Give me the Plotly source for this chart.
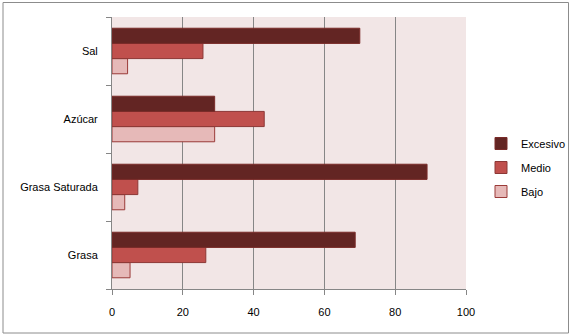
import plotly.graph_objects as go

categories = ["Grasa", "Grasa Saturada", "Azúcar", "Sal"]
series_names = ["Bajo", "Medio", "Excesivo"]
bajo = [5.1, 3.6, 29, 4.4]
medio = [26.5, 7.3, 43, 25.7]
excesivo = [68.7, 89, 29, 70]
x_ticks = [0, 20, 40, 60, 80, 100]

fills = {"Bajo": "#e6b9b8", "Medio": "#c0504d", "Excesivo": "#632523"}
borders = {"Bajo": "#9b3b39", "Medio": "#8c3836", "Excesivo": "#7a2b29"}
ranks = {"Excesivo": 1, "Medio": 2, "Bajo": 3}
values = {"Bajo": bajo, "Medio": medio, "Excesivo": excesivo}

FONT = "Liberation Sans"
fig = go.Figure()
for name in series_names:
    fig.add_trace(go.Bar(
        y=categories, x=values[name], name=name, orientation="h",
        marker=dict(color=fills[name], line=dict(color=borders[name], width=1)),
        legendgroup=name, legendrank=ranks[name],
    ))

W, H = 572, 336
l, r, t, b = 112, 106, 17, 47
pw, ph = W - l - r, H - t - b

def px(x):
    return (x - l) / pw

def py(y):
    return (H - b - y) / ph

fig.update_layout(
    width=W, height=H,
    margin=dict(l=l, r=r, t=t, b=b, autoexpand=False),
    paper_bgcolor="white",
    plot_bgcolor="#f2e6e6",
    barmode="group",
    bargap=0.33,
    bargroupgap=0,
    font=dict(family=FONT, size=11, color="#000000"),
    showlegend=True,
    legend=dict(
        traceorder="grouped",
        tracegroupgap=5,
        x=px(481), xanchor="left",
        y=py(129), yanchor="top",
        bgcolor="rgba(0,0,0,0)",
        font=dict(family=FONT, size=11),
    ),
    xaxis=dict(
        range=[0, 100], tickvals=x_ticks, showgrid=True, gridcolor="#868686",
        gridwidth=1, showline=True, linecolor="#868686", linewidth=1,
        ticks="outside", ticklen=5, tickcolor="#868686", zeroline=False,
        fixedrange=True, ticklabelstandoff=8,
    ),
    yaxis=dict(
        showline=True, linecolor="#868686", linewidth=1,
        ticks="outside", ticklen=5, tickcolor="#868686", tickson="boundaries",
        showgrid=False, fixedrange=True, ticklabelstandoff=11,
    ),
    shapes=[dict(
        type="rect", xref="paper", yref="paper",
        x0=px(3), x1=px(568.5), y0=py(333), y1=py(2.5),
        line=dict(color="#8c8c8c", width=1), fillcolor="rgba(0,0,0,0)",
        layer="below",
    )],
)

fig.write_html("out.html")
